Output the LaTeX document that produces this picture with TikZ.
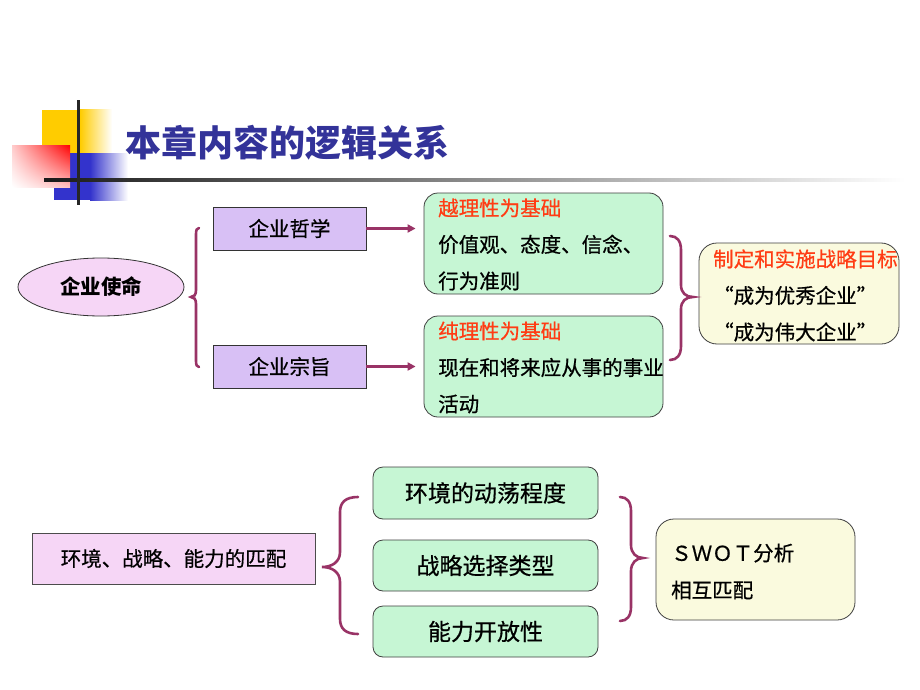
\documentclass[tikz,border=0pt]{standalone}
\usepackage{fontspec}
\setmainfont{Noto Sans CJK SC}[UprightFeatures={FakeBold=0.6}]
\usetikzlibrary{arrows.meta,shapes.geometric,shadings}
\definecolor{lavfill}{RGB}{216,192,245}
\definecolor{pinkfill}{RGB}{246,214,246}
\definecolor{greenfill}{RGB}{198,246,212}
\definecolor{yelfill}{RGB}{250,250,222}
\definecolor{redtext}{RGB}{255,60,20}
\definecolor{titleblue}{RGB}{51,51,153}
\definecolor{maroon}{RGB}{153,51,102}
\definecolor{logoyellow}{RGB}{255,204,0}
\definecolor{logoblue}{RGB}{51,51,204}
\tikzset{
  lavbox/.style={draw=black!80, line width=0.8pt, fill=lavfill, minimum width=153pt, minimum height=43pt, inner sep=0pt, font=\fontsize{20.5}{24}\selectfont},
  pinkbox/.style={draw=black!70, line width=0.8pt, fill=pinkfill, inner sep=0pt, font=\fontsize{20.5}{24}\selectfont},
  gbox/.style={draw=black!75, line width=0.8pt, fill=greenfill, rounded corners=14pt, inner sep=0pt},
  ybox/.style={draw=black!75, line width=0.8pt, fill=yelfill, rounded corners=18pt, inner sep=0pt},
  txt/.style={anchor=west, inner sep=0pt, align=left, font=\fontsize{20.5}{36.5}\selectfont},
  brace/.style={draw=maroon, line width=2.6pt, line cap=round},
  arr/.style={draw=maroon, line width=2.2pt, -{Triangle[length=8pt,width=8pt]}, shorten >=8pt},
}
\begin{document}
\begin{tikzpicture}[x=1pt,y=-1pt]
\useasboundingbox[fill=white] (0,0) rectangle (920,690);
% logo
\fill[logoyellow] (42,110) rectangle (80,153);
\shade[left color=logoyellow, right color=white] (80,110) rectangle (112,153);
\fill[logoblue] (54,153) rectangle (90,200);
\shade[left color=logoblue, right color=white] (90,153) rectangle (128,200);
\shade[upper right=red, upper left=red!20, lower right=red!25, lower left=white] (12,145) rectangle (70,187);
\shade[left color=black!90, right color=white] (44,178.5) rectangle (905,181.5);
\fill[black!85] (76.5,100) rectangle (79.5,205);
\node[anchor=west, inner sep=0pt, text=titleblue, font=\fontsize{36}{40}\selectfont\bfseries] (title) at (125,143) {本章内容的逻辑关系};
% top part
\node[ellipse, draw=black!80, line width=0.8pt, fill=pinkfill, minimum width=166pt, minimum height=58pt, inner sep=0pt, font=\fontsize{20.5}{24}\selectfont\bfseries] (m) at (101,287) {企业使命};
\node[lavbox] (p1) at (289.5,228.5) {企业哲学};
\node[lavbox] (p2) at (289.5,366.5) {企业宗旨};
\node[gbox, minimum width=239pt, minimum height=101pt] (g1) at (543.5,243.5) {};
\node[gbox, minimum width=239pt, minimum height=101pt] (g2) at (543.5,366.5) {};
\node[ybox, minimum width=200pt, minimum height=101pt] (y1) at (799,293.5) {};
\node[txt] (g1t) at (438,244.5) {\textcolor{redtext}{越理性为基础}\\价值观、态度、信念、\\行为准则};
\node[txt] (g2t) at (438,367.5) {\textcolor{redtext}{纯理性为基础}\\现在和将来应从事的事业\\活动};
\node[txt] (y1t) at (713,295.5) {\textcolor{redtext}{制定和实施战略目标}\\“成为优秀企业”\\“成为伟大企业”};
\draw[arr] (p1.east) -- (p1.east -| g1.west);
\draw[arr] (p2.east) -- (p2.east -| g2.west);
\coordinate (b1t) at (199,228);
\coordinate (b1b) at (199,367);
\draw[brace] (b1t) .. controls (197,228) and (196,230) .. (196,234) -- (196,290) .. controls (196,295) and (194,297) .. (191,297) .. controls (194,297) and (196,299) .. (196,304) -- (196,361) .. controls (196,365) and (197,367) .. (b1b);
\coordinate (b2t) at (670,236);
\coordinate (b2b) at (670,360);
\draw[brace] (b2t) .. controls (677,236) and (681,241) .. (681,250) -- (681,285) .. controls (681,293) and (686,297) .. (693,297) .. controls (686,297) and (681,301) .. (681,309) -- (681,346) .. controls (681,355) and (677,360) .. (b2b);
% bottom part
\node[pinkbox, minimum width=283pt, minimum height=51pt] (q) at (173.5,558.5) {环境、战略、能力的匹配};
\node[gbox, rounded corners=10pt, minimum width=225pt, minimum height=52pt, font=\fontsize{23}{26}\selectfont] (h1) at (485.5,493) {环境的动荡程度};
\node[gbox, rounded corners=10pt, minimum width=225pt, minimum height=51pt, font=\fontsize{23}{26}\selectfont] (h2) at (485.5,565.5) {战略选择类型};
\node[gbox, rounded corners=10pt, minimum width=225pt, minimum height=51pt, font=\fontsize{23}{26}\selectfont] (h3) at (485.5,631.5) {能力开放性};
\node[ybox, minimum width=199pt, minimum height=101pt] (y2) at (755.5,569.5) {};
\node[txt, font=\fontsize{20.5}{37}\selectfont] (y2t) at (671,571.5) {ＳＷＯＴ分析\\相互匹配};
\coordinate (b3t) at (358,497);
\coordinate (b3b) at (358,634);
\draw[brace] (b3t) .. controls (346,497) and (340,502) .. (340,512) -- (340,552) .. controls (340,562) and (332,567) .. (322,567) .. controls (332,567) and (340,572) .. (340,582) -- (340,619) .. controls (340,629) and (346,634) .. (b3b);
\coordinate (b4t) at (620,497);
\coordinate (b4b) at (620,621);
\draw[brace] (b4t) .. controls (627,497) and (631,502) .. (631,511) -- (631,545) .. controls (631,553) and (636,558) .. (643,558) .. controls (636,558) and (631,563) .. (631,571) -- (631,607) .. controls (631,616) and (627,621) .. (b4b);
\end{tikzpicture}
\end{document}
